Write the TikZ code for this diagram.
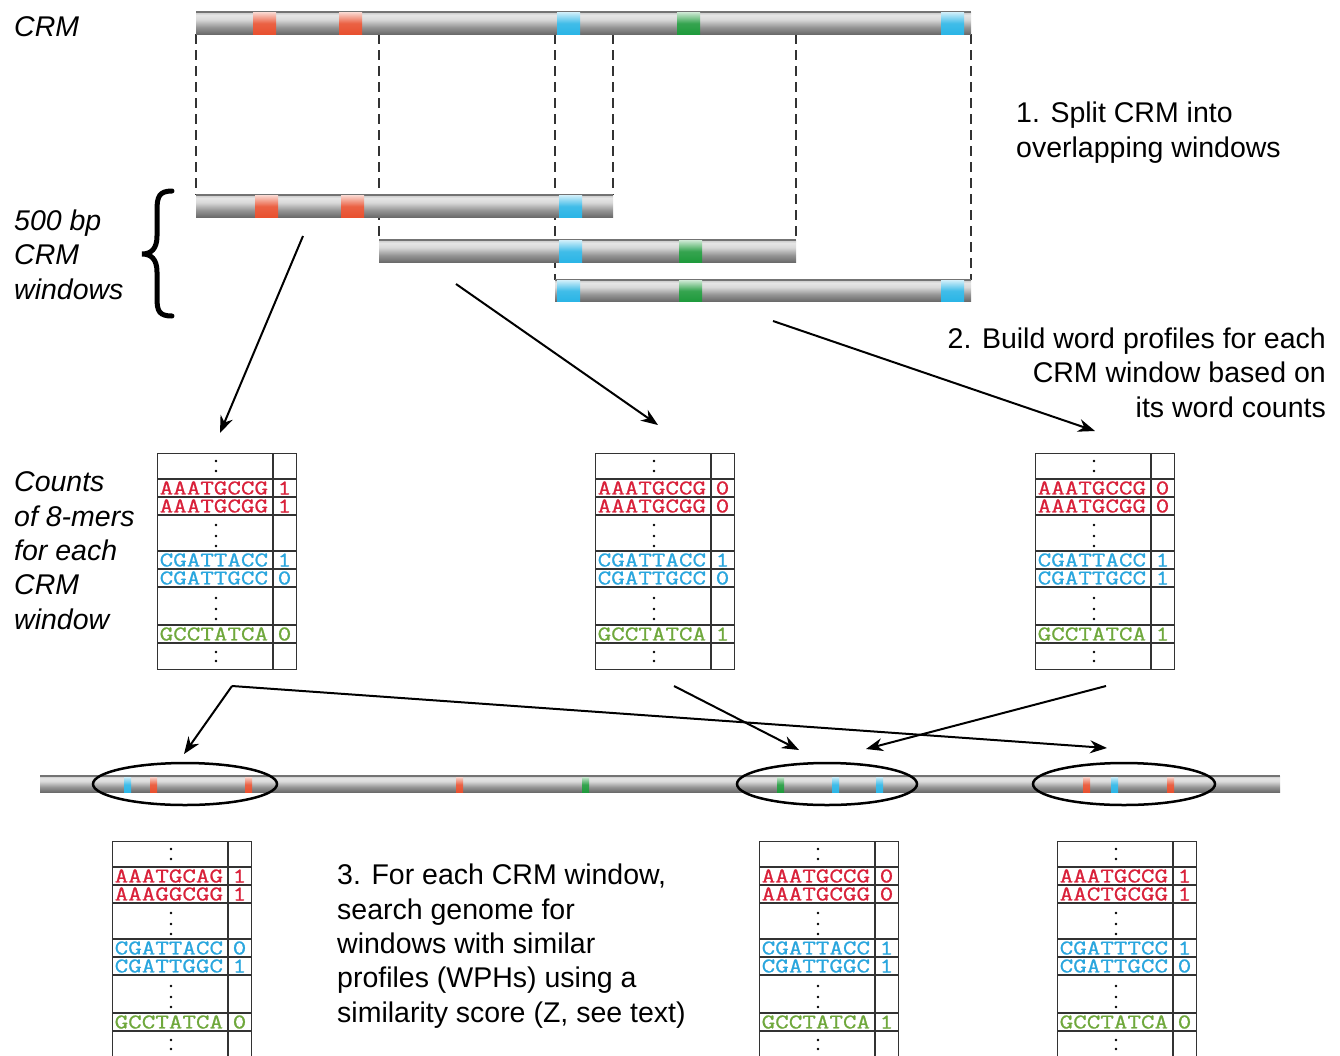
\documentclass[tikz,border=0pt]{standalone}
\usepackage{fontspec}
\setmainfont{Liberation Sans}
\newfontfamily\seqfont[FakeBold=0.8]{Latin Modern Mono}
\usetikzlibrary{arrows.meta,shapes.geometric}
\definecolor{mred}{HTML}{E8502F}
\definecolor{mblue}{HTML}{2BB5E6}
\definecolor{mgreen}{HTML}{1F9A3C}
\definecolor{tred}{HTML}{D9213A}
\definecolor{tblue}{HTML}{2AA6DE}
\definecolor{tgreen}{HTML}{6FA83C}
\pgfdeclareverticalshading{barshade}{100bp}{color(0bp)=(black!58); color(25bp)=(black!58); color(40bp)=(black!42); color(58bp)=(black!15); color(68bp)=(black!10); color(75bp)=(black!22); color(100bp)=(black!22)}
\newcommand\dnabar[4]{%
  \shade[shading=barshade] (#1,#2) rectangle (#3,#4);
  \draw[black!55, line width=1.2pt] (#1,#2) -- (#3,#2);}
\newcommand\dnamark[5]{%
  \shade[top color=#5!25, bottom color=#5, middle color=#5!90] (#1,#2) rectangle (#3,#4);}
\newcommand\sq[1]{\scalebox{1}[0.8]{#1}}
\def\splitvals#1#2#3#4#5{\def\kva{#1}\def\kvb{#2}\def\kvc{#3}\def\kvd{#4}\def\kve{#5}}
\newcommand\kmertab[8]{%
  \splitvals#8%
  \begin{scope}[shift={(#2,#3)}]
    \node[tabframe, anchor=north west] (#1) at (0,0) {};
    \draw[tabline] (116,0) -- (116,215.5);
    \foreach \yy in {26,44,62,98,116,134,172,190} \draw[tabline] (0,\yy) -- (139,\yy);
    \node[seq, text=tred, anchor=west] at (2.5,35) {\sq{#4}};
    \node[seq, text=tred, anchor=west] at (2.5,53) {\sq{#5}};
    \node[seq, text=tblue, anchor=west] at (2.5,107) {\sq{#6}};
    \node[seq, text=tblue, anchor=west] at (2.5,125) {\sq{#7}};
    \node[seq, text=tgreen, anchor=west] at (2.5,181) {\sq{GCCTATCA}};
    \node[seq, text=tred] at (127.5,35) {\sq{\kva}};
    \node[seq, text=tred] at (127.5,53) {\sq{\kvb}};
    \node[seq, text=tblue] at (127.5,107) {\sq{\kvc}};
    \node[seq, text=tblue] at (127.5,125) {\sq{\kvd}};
    \node[seq, text=tgreen] at (127.5,181) {\sq{\kve}};
    \foreach \yy in {8,18,72,83,93,145,156,166,199,208} \fill (59,\yy) circle (1.4pt);
  \end{scope}}
\tikzset{
  tabframe/.style={draw=black!80, line width=1.1pt, minimum width=139pt, minimum height=215.5pt, inner sep=0pt},
  tabline/.style={draw=black!80, line width=1.1pt},
  seq/.style={font=\seqfont\fontsize{26.3}{26.3}\selectfont, inner sep=0pt},
  lbl/.style={font=\fontsize{28.5}{34.3}\selectfont, inner sep=0pt, anchor=base west, align=left},
  ilbl/.style={lbl, font=\fontsize{28.5}{34.3}\selectfont\itshape},
  arr/.style={line width=2pt, -{Stealth[length=17pt, width=13pt]}},
  guide/.style={black!80, line width=1.1pt, dash pattern=on 10pt off 6pt},
  ring/.style={draw=black, line width=2.5pt}
}
\begin{document}
\begin{tikzpicture}[x=1pt, y=-1pt]
\useasboundingbox (0,0) rectangle (1340,1055);
\fill[white] (0,0) rectangle (1340,1055);

% dashed guides
\draw[guide] (196,34) -- (196,195);
\draw[guide] (613,34) -- (613,195);
\draw[guide] (379,34) -- (379,240);
\draw[guide] (796,34) -- (796,240);
\draw[guide] (555,34) -- (555,280);
\draw[guide] (971,34) -- (971,280);

% CRM bar
\dnabar{196}{12}{971}{34}
\dnamark{253}{12.6}{276}{34}{mred}
\dnamark{339}{12.6}{362}{34}{mred}
\dnamark{557}{12.6}{580}{34}{mblue}
\dnamark{677}{12.6}{700}{34}{mgreen}
\dnamark{941}{12.6}{964}{34}{mblue}

% windows
\dnabar{196}{195}{613}{217}
\dnamark{255}{195.6}{278}{217}{mred}
\dnamark{341}{195.6}{364}{217}{mred}
\dnamark{559}{195.6}{582}{217}{mblue}
\dnabar{379}{240}{796}{262}
\dnamark{559}{240.6}{582}{262}{mblue}
\dnamark{679}{240.6}{702}{262}{mgreen}
\dnabar{555}{280}{971}{301}
\dnamark{557}{280.6}{580}{301}{mblue}
\dnamark{679}{280.6}{702}{301}{mgreen}
\dnamark{941}{280.6}{964}{301}{mblue}

% brace
\draw[line width=5pt, line cap=round] (172,191) .. controls (159,191) and (157,197) .. (157,210) -- (157,236) .. controls (157,249) and (151,254) .. (142,254) .. controls (151,254) and (157,259) .. (157,272) -- (157,298) .. controls (157,311) and (159,316) .. (172,316);

% labels (anchored at the baseline of their last line)
\node[ilbl] (lcrm) at (14,36) {CRM};
\node[ilbl] (lwin) at (14,299) {500 bp\\CRM\\windows};
\node[lbl] (lstep1) at (1016,157) {1. Split CRM into\\overlapping windows};
\node[lbl, anchor=base east, align=right] (lstep2) at (1326,417) {2. Build word profiles for each\\CRM window based on\\its word counts};
\node[ilbl] (lcounts) at (14,629) {Counts\\of 8-mers\\for each\\CRM\\window};
\node[lbl] (lstep3) at (337,1022) {3. For each CRM window,\\search genome for\\windows with similar\\profiles (WPHs) using a\\similarity score (Z, see text)};

% tables
\kmertab{t1}{157}{453}{AAATGCCG}{AAATGCGG}{CGATTACC}{CGATTGCC}{11100}
\kmertab{t2}{595}{453}{AAATGCCG}{AAATGCGG}{CGATTACC}{CGATTGCC}{00101}
\kmertab{t3}{1035}{453}{AAATGCCG}{AAATGCGG}{CGATTACC}{CGATTGCC}{00111}
\kmertab{b1}{112}{841}{AAATGCAG}{AAAGGCGG}{CGATTACC}{CGATTGGC}{11010}
\kmertab{b2}{759}{841}{AAATGCCG}{AAATGCGG}{CGATTACC}{CGATTGGC}{00111}
\kmertab{b3}{1057}{841}{AAATGCCG}{AACTGCGG}{CGATTTCC}{CGATTGCC}{11100}

% genome
\dnabar{40}{776}{1280}{792}
\foreach \xx/\cc in {124/mblue,150/mred,245/mred,456/mred,582/mgreen,777/mgreen,832/mblue,876/mblue,1083/mred,1111/mblue,1167/mred}
  \dnamark{\xx}{777}{\xx+7}{792}{\cc};
\node[ring, ellipse, minimum width=184pt, minimum height=42pt, inner sep=0pt] (e1) at (185,784) {};
\node[ring, ellipse, minimum width=180pt, minimum height=42pt, inner sep=0pt] (e2) at (827,784) {};
\node[ring, ellipse, minimum width=182pt, minimum height=42pt, inner sep=0pt] (e3) at (1124,784) {};

% arrows
\coordinate (s1) at (303,236); \coordinate (h1) at (220,433);
\coordinate (s2) at (456,284); \coordinate (h2) at (658,425);
\coordinate (s3) at (773,321); \coordinate (h3) at (1095,431);
\coordinate (s4) at (232,686); \coordinate (h4) at (184,754);
\coordinate (h5) at (1107,748);
\coordinate (s6) at (674,686); \coordinate (h6) at (799,750);
\coordinate (s7) at (1106,686); \coordinate (h7) at (866,749);
\draw[arr] (s1) -- (h1);
\draw[arr] (s2) -- (h2);
\draw[arr] (s3) -- (h3);
\draw[arr] (s4) -- (h4);
\draw[arr] (s4) -- (h5);
\draw[arr] (s6) -- (h6);
\draw[arr] (s7) -- (h7);
\end{tikzpicture}
\end{document}
